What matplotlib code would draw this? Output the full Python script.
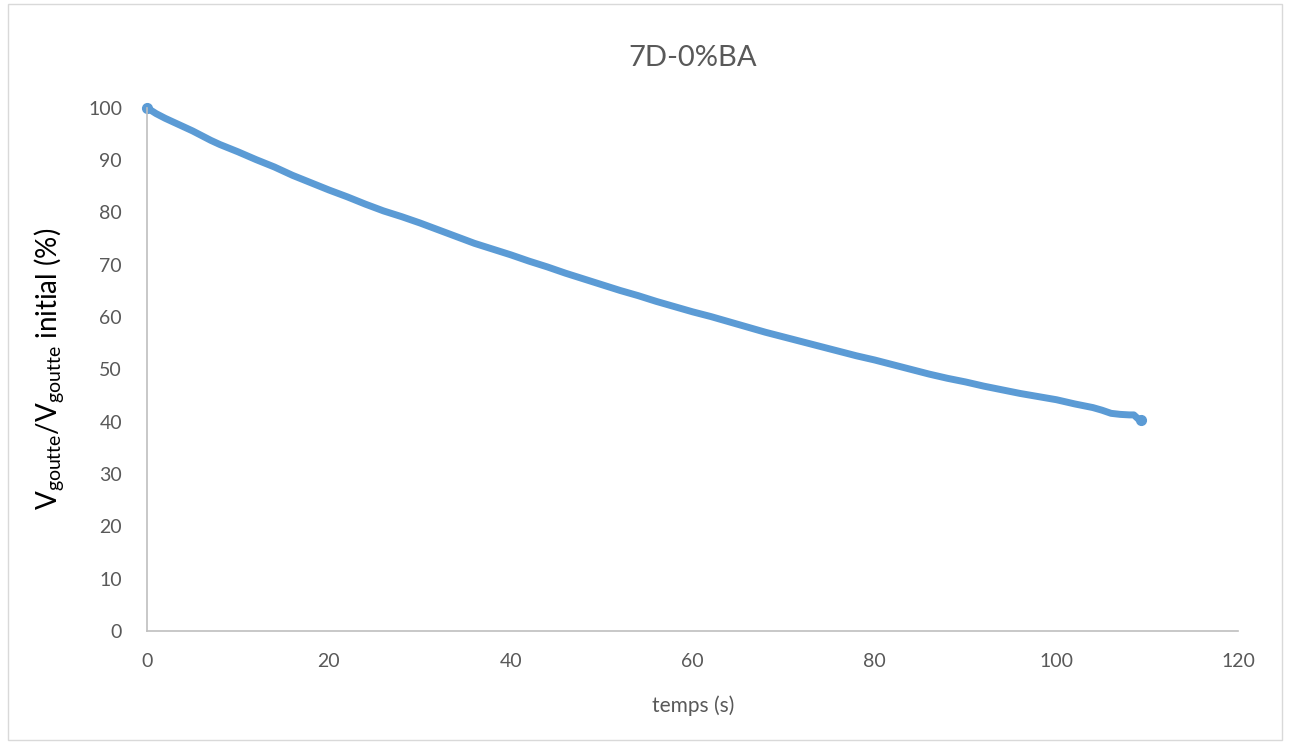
import matplotlib.pyplot as plt
from matplotlib.patches import Rectangle

plt.rcParams['font.family'] = ['Lato', 'DejaVu Sans']
plt.rcParams['mathtext.default'] = 'regular'

# temps (s) et volume relatif de la goutte (%)
temps = [0, 1, 2, 3, 4, 5, 6, 7, 8, 9, 10, 12, 14, 16, 18, 20, 22, 24, 26, 28,
         30, 32, 34, 36, 38, 40, 42, 44, 46, 48, 50, 52, 54, 56, 58, 60, 62, 64,
         66, 68, 70, 72, 74, 76, 78, 80, 82, 84, 86, 88, 90, 92, 94, 96, 98, 100,
         102, 104, 105, 106, 107, 108, 108.5, 109, 109.3]
volume = [100, 98.9, 98.0, 97.2, 96.4, 95.6, 94.7, 93.8, 93.0, 92.3, 91.6, 90.1,
          88.7, 87.1, 85.7, 84.3, 83.0, 81.6, 80.3, 79.2, 78.0, 76.7, 75.4, 74.1,
          73.0, 71.9, 70.7, 69.6, 68.4, 67.3, 66.2, 65.1, 64.1, 63.0, 62.0, 61.0,
          60.1, 59.1, 58.1, 57.1, 56.2, 55.3, 54.4, 53.5, 52.6, 51.8, 50.9, 50.0,
          49.1, 48.3, 47.6, 46.8, 46.1, 45.4, 44.8, 44.2, 43.4, 42.7, 42.2, 41.6,
          41.4, 41.3, 41.3, 40.5, 40.4]

xticks = [0, 20, 40, 60, 80, 100, 120]
yticks = [0, 10, 20, 30, 40, 50, 60, 70, 80, 90, 100]

fig = plt.figure(figsize=(12.9, 7.44), dpi=100)
ax = fig.add_axes([0.114, 0.152, 0.846, 0.703])

bleu = '#5B9BD5'
ax.plot(temps, volume, color=bleu, lw=5, solid_capstyle='round',
        solid_joinstyle='round', clip_on=False)
ax.plot([temps[0], temps[-1]], [volume[0], volume[-1]], 'o', color=bleu,
        ms=7, clip_on=False)

ax.set_xlim(0, 120)
ax.set_ylim(0, 100)
ax.set_xticks(xticks)
ax.set_yticks(yticks)
ax.tick_params(length=0, labelsize=14, colors='#595959')
ax.tick_params(axis='x', pad=16)
ax.tick_params(axis='y', pad=18)
for s in ['top', 'right']:
    ax.spines[s].set_visible(False)
for s in ['left', 'bottom']:
    ax.spines[s].set_color('#BFBFBF')
    ax.spines[s].set_linewidth(1.2)

ax.set_title('7D-0%BA', fontsize=21, color='#595959', pad=30)
ax.set_xlabel('temps (s)', fontsize=15, color='#595959', labelpad=18)
ax.set_ylabel('V$_{goutte}$/V$_{goutte}$ initial (%)', fontsize=20,
              color='black', labelpad=16)

fig.patches.append(Rectangle((0.006, 0.006), 0.988, 0.988, transform=fig.transFigure,
                             fill=False, edgecolor='#D9D9D9', lw=1))

fig.savefig('out.png', dpi=100)
